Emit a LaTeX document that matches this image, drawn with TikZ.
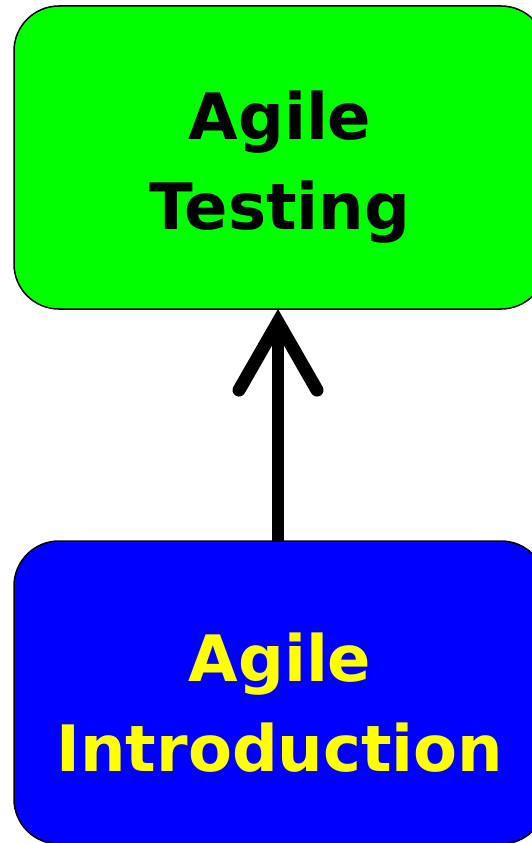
\documentclass[tikz,border=0pt]{standalone}
\usepackage{fontspec}
\setmainfont{DejaVu Sans}
\usetikzlibrary{arrows.meta}
\definecolor{boxgreen}{RGB}{0,255,0}
\definecolor{boxblue}{RGB}{0,0,255}
\definecolor{txtyellow}{RGB}{255,255,0}
\newcommand{\toppad}{\rule{0pt}{68pt}}
\tikzset{
  course/.style={draw=black, line width=1.5pt, rounded corners=45pt,
    minimum width=532pt, minimum height=303pt, inner sep=0pt, outer sep=0pt,
    align=center, font=\fontsize{64}{90}\selectfont\bfseries},
  prereq/.style={line width=12pt,
    -{Straight Barb[length=68pt, width=78pt, line width=13pt, line cap=round]}}
}
\begin{document}
\begin{tikzpicture}[x=1pt, y=-1pt]
	    \useasboundingbox (0, 0) rectangle (531, 843);
	    \node[course, fill=boxgreen, text=black] at (280, 157.5) (AT) {\toppad Agile\\Testing};
	    \node[course, fill=boxblue, text=txtyellow] at (280, 692.5) (AI) {\toppad Agile\\Introduction};
	    
	    \draw[prereq] (AI.north -| 278, 0) -- (AT.south -| 278, 0);
	    
	    \end{tikzpicture}
\end{document}
